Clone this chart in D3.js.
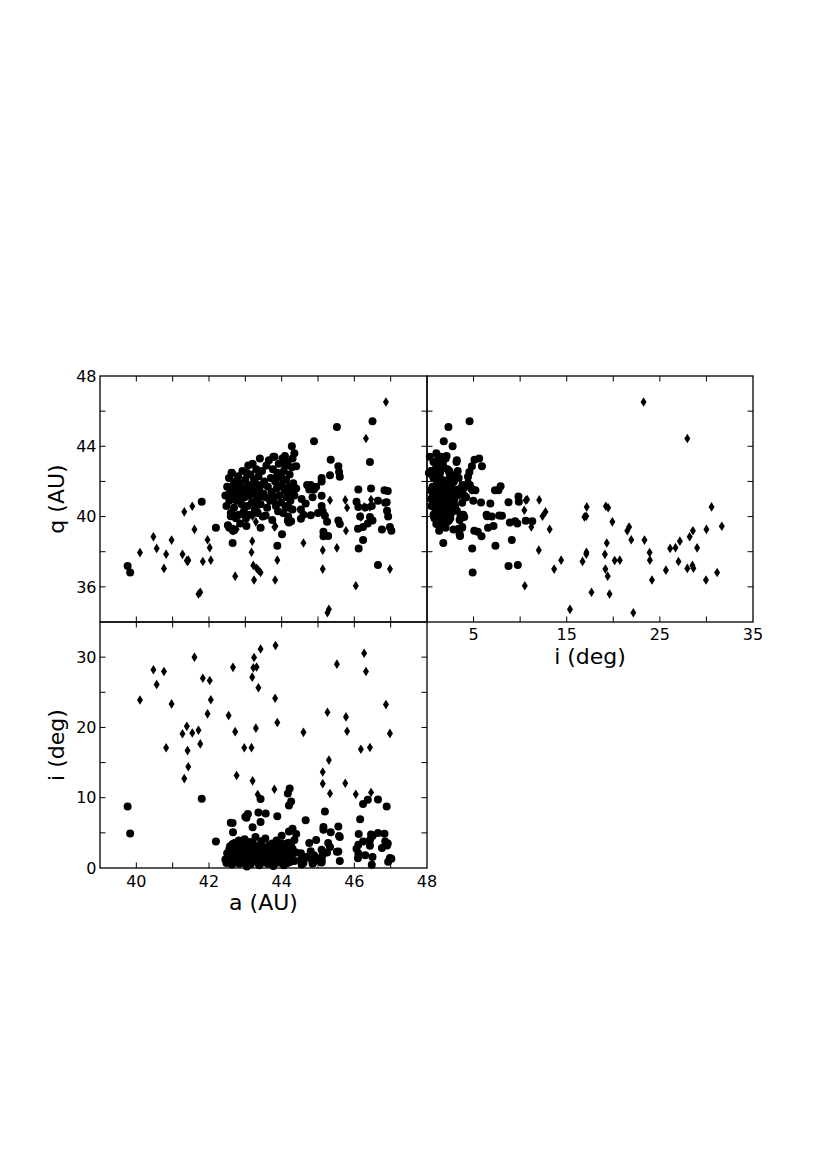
<!DOCTYPE html>
<html>
<head>
<meta charset="utf-8">
<script src="https://cdn.jsdelivr.net/npm/d3@7"></script>
<style>
  body { margin: 0; background: #fff; }
  text { font-family: "DejaVu Sans", sans-serif; fill: #000; }
</style>
</head>
<body>
<script>
// each object: [a (AU), q (AU), i (deg)]
const diamonds = [
  [40.10, 37.95, 23.9], [40.47, 38.85, 28.2], [40.56, 38.19, 26.1], [40.76, 37.05, 27.95],
  [40.82, 37.86, 17.1], [40.97, 38.66, 23.35], [41.27, 37.85, 19.1], [41.39, 37.50, 20.15],
  [41.41, 37.45, 16.7], [41.43, 37.52, 14.4], [41.32, 40.27, 12.72], [41.54, 40.59, 19.2],
  [41.60, 39.27, 30.0], [41.71, 35.59, 19.6], [41.76, 35.69, 17.66], [41.83, 37.44, 27.0],
  [41.96, 38.68, 21.93], [42.02, 38.23, 26.68], [42.05, 37.52, 23.93], [42.54, 39.41, 21.7],
  [42.66, 39.19, 28.55], [42.72, 36.61, 19.4], [42.76, 39.28, 13.17], [42.97, 40.02, 17.1],
  [43.19, 38.60, 27.15], [43.17, 37.97, 17.12], [43.24, 36.39, 29.95], [43.22, 37.22, 28.5],
  [43.31, 37.06, 28.6], [43.42, 36.82, 31.15], [43.36, 36.95, 25.65], [43.29, 39.70, 19.9],
  [43.20, 40.02, 12.4], [43.34, 40.36, 10.45], [43.80, 39.41, 11.2], [43.83, 39.45, 31.65],
  [43.82, 36.39, 24.15], [43.88, 37.52, 20.7], [44.60, 38.50, 19.3], [45.13, 38.09, 12.0],
  [45.13, 37.01, 13.65], [45.33, 40.93, 10.6], [45.26, 34.53, 22.15], [45.30, 34.72, 15.35],
  [45.52, 38.22, 29.0], [45.77, 39.19, 21.5], [45.80, 40.50, 19.45], [45.75, 40.95, 12.05],
  [46.04, 36.06, 10.5], [46.18, 39.98, 16.9], [46.27, 40.55, 30.55], [46.32, 44.44, 27.95],
  [46.46, 40.97, 10.75], [46.43, 40.55, 17.15], [46.87, 46.52, 23.25], [46.98, 37.01, 19.15]
];

const circles = [
  // scattered, higher inclination
  [41.80, 40.85, 9.86], [43.42, 41.14, 9.82], [46.65, 37.24, 9.75], [44.17, 39.76, 10.6],
  [44.22, 39.74, 11.3], [44.26, 39.74, 9.46], [44.20, 39.66, 8.9], [46.37, 39.60, 9.7],
  [46.89, 40.82, 8.75], [46.24, 38.66, 9.1], [45.19, 40.05, 8.05], [43.56, 40.06, 7.75],
  [43.36, 41.73, 7.9], [43.07, 41.50, 7.67], [43.88, 38.34, 7.35], [43.03, 39.46, 7.14],
  [46.16, 40.00, 6.95], [44.66, 40.74, 6.8], [43.42, 39.37, 6.55], [42.60, 40.02, 6.45],
  [42.65, 40.10, 6.4], [43.00, 41.50, 7.3], [45.15, 38.88, 5.85], [45.15, 39.14, 5.45],
  [42.66, 39.20, 5.07], [45.35, 43.24, 5.1], [44.30, 43.30, 5.6], [45.56, 42.86, 5.9],
  [44.40, 42.86, 4.82], [45.58, 42.54, 4.55], [45.60, 42.26, 4.4], [44.20, 41.50, 5.2],
  [43.20, 40.80, 5.8], [46.46, 41.60, 4.75], [46.12, 38.19, 4.85], [46.50, 45.42, 4.57],
  [45.52, 45.10, 2.3], [44.89, 44.28, 1.8], [44.28, 44.00, 2.75], [42.19, 39.36, 3.78],
  [39.76, 37.18, 8.75], [39.83, 36.82, 4.9], [42.65, 38.50, 1.75], [44.01, 39.00, 3.5],
  [46.65, 40.90, 4.97], [46.83, 41.50, 4.87],
  // outer classical belt
  [44.53, 40.40, 1.2], [44.53, 39.88, 2.1], [44.60, 40.10, 0.7], [44.70, 41.80, 1.6],
  [44.76, 41.54, 3.55], [44.80, 41.80, 1.3], [44.80, 40.08, 2.4], [44.89, 41.54, 0.9],
  [44.95, 41.70, 4.0], [45.00, 40.20, 1.4], [45.10, 42.00, 2.6], [45.10, 42.20, 1.1],
  [45.10, 41.18, 1.5], [45.10, 40.60, 0.8], [45.13, 40.30, 1.9], [45.25, 39.70, 2.2],
  [45.33, 42.35, 3.0], [45.28, 38.90, 3.55], [45.56, 39.77, 2.36], [45.60, 39.58, 1.0],
  [46.06, 40.84, 2.74], [46.11, 40.55, 2.07], [46.11, 41.54, 3.3], [46.10, 39.30, 1.4],
  [46.24, 39.40, 3.78], [46.30, 40.52, 1.8], [46.43, 39.98, 4.0], [46.43, 43.10, 3.17],
  [46.50, 39.77, 1.56], [46.48, 40.60, 0.47], [46.76, 39.26, 2.84], [46.90, 40.33, 3.2],
  [46.92, 41.45, 3.5], [46.85, 40.78, 3.78], [46.93, 40.00, 0.9], [46.98, 39.40, 1.42],
  [47.02, 39.20, 1.3], [44.55, 41.00, 0.5], [44.85, 41.10, 0.6],
  // dense core
  [42.45, 41.2, 1.2], [42.48, 40.6, 0.7], [42.50, 41.7, 2.1], [42.52, 39.5, 1.6],
  [42.55, 42.2, 0.9], [42.56, 40.9, 2.7], [42.58, 41.4, 3.1], [42.60, 40.2, 1.4],
  [42.62, 42.5, 2.4], [42.63, 41.0, 0.5], [42.65, 39.3, 3.4], [42.67, 41.8, 1.8],
  [42.69, 40.5, 2.2], [42.70, 42.0, 1.1], [42.72, 41.3, 3.6], [42.74, 39.9, 0.8],
  [42.76, 40.9, 2.9], [42.78, 41.6, 1.5], [42.80, 42.3, 2.5], [42.82, 40.1, 3.9],
  [42.84, 41.1, 0.6], [42.86, 39.6, 1.9], [42.88, 41.9, 2.7], [42.90, 40.7, 1.2],
  [42.92, 42.6, 3.3], [42.94, 41.4, 2.0], [42.96, 40.3, 0.9], [42.98, 41.1, 4.1],
  [43.00, 42.1, 1.6], [43.02, 39.9, 2.5], [43.04, 41.6, 0.7], [43.06, 40.6, 3.0],
  [43.08, 42.9, 1.3], [43.10, 41.2, 2.2], [43.12, 40.1, 3.7], [43.14, 42.4, 0.5],
  [43.16, 41.7, 1.9], [43.18, 40.8, 2.8], [43.20, 43.0, 1.1], [43.22, 41.3, 3.4],
  [43.24, 42.1, 2.3], [43.26, 40.4, 1.5], [43.28, 41.9, 4.4], [43.30, 42.7, 0.9],
  [43.32, 41.0, 2.6], [43.34, 40.2, 1.7], [43.36, 42.3, 3.1], [43.38, 41.5, 0.4],
  [43.40, 43.3, 2.0], [43.42, 40.7, 1.2], [43.44, 41.8, 3.8], [43.46, 42.6, 2.4],
  [43.48, 40.0, 0.8], [43.50, 41.3, 1.6], [43.52, 42.0, 2.9], [43.55, 41.1, 4.2],
  [43.58, 42.9, 1.4], [43.60, 40.5, 2.1], [43.62, 41.7, 0.6], [43.65, 43.2, 3.2],
  [43.68, 40.9, 1.8], [43.70, 42.2, 2.7], [43.72, 41.4, 1.0], [43.74, 39.8, 3.5],
  [43.76, 42.7, 2.2], [43.78, 41.0, 0.5], [43.80, 43.4, 1.5], [43.82, 42.0, 2.8],
  [43.84, 40.6, 1.3], [43.86, 41.6, 3.9], [43.88, 42.5, 0.8], [43.90, 40.3, 2.4],
  [43.92, 43.0, 1.7], [43.94, 41.2, 3.3], [43.96, 42.3, 0.9], [43.98, 40.8, 2.0],
  [44.00, 41.8, 4.6], [44.02, 43.3, 1.2], [44.04, 40.2, 2.6], [44.06, 42.6, 0.4],
  [44.08, 41.5, 1.9], [44.10, 40.6, 3.0], [44.12, 42.1, 1.4], [44.14, 41.1, 2.3],
  [44.16, 43.1, 0.7], [44.18, 40.0, 3.6], [44.20, 41.7, 1.6], [44.22, 42.4, 2.5],
  [44.24, 40.9, 0.9], [44.26, 41.3, 3.2], [44.28, 42.8, 1.8], [44.30, 40.4, 2.7],
  [44.32, 41.9, 1.1], [44.35, 41.2, 4.0], [44.40, 41.6, 2.2],
  [42.60, 41.5, 1.0], [42.70, 41.9, 1.7], [42.80, 41.2, 3.0], [42.90, 41.6, 2.6],
  [43.00, 41.4, 0.8], [43.10, 41.8, 1.5], [43.20, 41.6, 2.0], [43.30, 40.8, 1.3],
  [43.90, 41.7, 1.1], [44.00, 42.2, 0.7], [44.10, 42.9, 1.6], [44.20, 40.5, 2.0],
  [43.85, 42.2, 3.4], [43.75, 41.2, 2.5], [43.77, 43.4, 0.3], [44.35, 43.6, 1.0],
  [44.09, 43.45, 2.1], [43.04, 42.48, 0.2], [42.63, 42.48, 1.4], [42.56, 39.37, 2.0]
];

const aTicks = [40, 41, 42, 43, 44, 45, 46, 47];
const aLabels = [40, 42, 44, 46, 48];
const qTicks = [36, 38, 40, 42, 44, 46];
const qLabels = [36, 40, 44, 48];
const iTicksX = [5, 10, 15, 20, 25, 30];
const iLabelsX = [5, 15, 25, 35];
const iTicksY = [5, 10, 15, 20, 25, 30];
const iLabelsY = [0, 10, 20, 30];

const W = 830, H = 1175;
const X0 = 100, X1 = 427, X2 = 753;
const Y0 = 376, Y1 = 622, Y2 = 868;
const tick = 5.5;

const xA = d3.scaleLinear().domain([39, 48]).range([X0, X1]);
const yQ = d3.scaleLinear().domain([34, 48]).range([Y1, Y0]);
const xI = d3.scaleLinear().domain([0, 35]).range([X1, X2]);
const yI = d3.scaleLinear().domain([0, 35]).range([Y2, Y1]);

const svg = d3.select("body").append("svg")
  .attr("width", W).attr("height", H);

const diamondPath = "M0,-4.8L3,0L0,4.8L-3,0Z";

function panel(xs, ys, xKey, yKey, xt, yt) {
  const g = svg.append("g");
  const [xa, xb] = xs.range();
  const [yb, ya] = ys.range();

  g.append("g").selectAll("circle").data(circles).join("circle")
    .attr("cx", d => xs(d[xKey])).attr("cy", d => ys(d[yKey]))
    .attr("r", 4).attr("fill", "#000");

  g.append("g").selectAll("path").data(diamonds).join("path")
    .attr("d", diamondPath)
    .attr("transform", d => `translate(${xs(d[xKey])},${ys(d[yKey])})`)
    .attr("fill", "#000");

  // inward ticks on all four sides
  const tk = g.append("g").attr("stroke", "#000").attr("stroke-width", 1);
  xt.forEach(v => {
    tk.append("line").attr("x1", xs(v)).attr("x2", xs(v)).attr("y1", yb).attr("y2", yb - tick);
    tk.append("line").attr("x1", xs(v)).attr("x2", xs(v)).attr("y1", ya).attr("y2", ya + tick);
  });
  yt.forEach(v => {
    tk.append("line").attr("y1", ys(v)).attr("y2", ys(v)).attr("x1", xa).attr("x2", xa + tick);
    tk.append("line").attr("y1", ys(v)).attr("y2", ys(v)).attr("x1", xb).attr("x2", xb - tick);
  });

  g.append("rect")
    .attr("x", xa).attr("y", ya).attr("width", xb - xa).attr("height", yb - ya)
    .attr("fill", "none").attr("stroke", "#000").attr("stroke-width", 1.3);
}

panel(xA, yQ, 0, 1, aTicks, qTicks);
panel(xI, yQ, 2, 1, iTicksX, qTicks);
panel(xA, yI, 0, 2, aTicks, iTicksY);

const fs = "16px";

// q labels (top-left)
svg.append("g").selectAll("text").data(qLabels).join("text")
  .attr("x", X0 - 3.5).attr("y", d => yQ(d)).attr("dy", "0.36em")
  .attr("text-anchor", "end").style("font-size", fs).text(d => d);

// i labels (bottom-left)
svg.append("g").selectAll("text").data(iLabelsY).join("text")
  .attr("x", X0 - 3.5).attr("y", d => yI(d)).attr("dy", "0.36em")
  .attr("text-anchor", "end").style("font-size", fs).text(d => d);

// a labels
svg.append("g").selectAll("text").data(aLabels).join("text")
  .attr("x", d => xA(d)).attr("y", Y2 + 19)
  .attr("text-anchor", "middle").style("font-size", fs).text(d => d);

// i labels (top-right)
svg.append("g").selectAll("text").data(iLabelsX).join("text")
  .attr("x", d => xI(d)).attr("y", Y1 + 18)
  .attr("text-anchor", "middle").style("font-size", fs).text(d => d);

const lfs = "22px";
svg.append("text").attr("x", (X0 + X1) / 2).attr("y", Y2 + 42)
  .attr("text-anchor", "middle").style("font-size", lfs).text("a (AU)");
svg.append("text").attr("x", (X1 + X2) / 2).attr("y", Y1 + 42)
  .attr("text-anchor", "middle").style("font-size", lfs).text("i (deg)");
svg.append("text")
  .attr("transform", `translate(64,${(Y0 + Y1) / 2}) rotate(-90)`)
  .attr("text-anchor", "middle").style("font-size", lfs).text("q (AU)");
svg.append("text")
  .attr("transform", `translate(64,${(Y1 + Y2) / 2}) rotate(-90)`)
  .attr("text-anchor", "middle").style("font-size", lfs).text("i (deg)");
</script>
</body>
</html>
